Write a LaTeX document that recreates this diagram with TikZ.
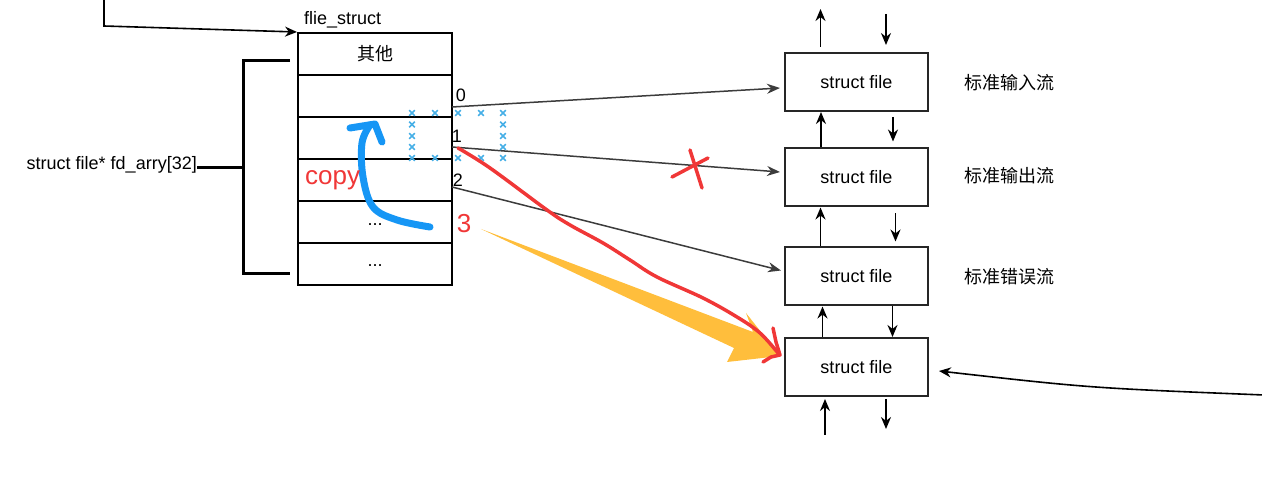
\documentclass[tikz,border=0pt]{standalone}
\usepackage{fontspec}
\setmainfont{Liberation Sans}
\newfontfamily\cjk{Noto Sans CJK SC}
\usetikzlibrary{arrows.meta}
\definecolor{conn}{RGB}{60,60,60}
\definecolor{redpen}{RGB}{240,55,55}
\definecolor{bluepen}{RGB}{22,150,245}
\definecolor{xblue}{RGB}{70,175,230}
\definecolor{yel}{RGB}{255,190,60}
\tikzset{
  txt/.style={font=\fontsize{18}{21}\selectfont, inner sep=0pt},
  cell/.style={draw=black, line width=2pt, minimum width=154pt, minimum height=42pt, inner sep=0pt, txt},
  fbox/.style={draw=black!85, line width=2pt, minimum width=143pt, minimum height=58pt, inner sep=0pt, txt},
  conarrow/.style={draw=conn, line width=1.5pt, -{Stealth[length=13pt,width=10pt]}},
  sarrow/.style={draw=black, line width=1.6pt, -{Stealth[length=12pt,width=10pt]}},
  redstroke/.style={draw=redpen, line width=3.5pt, line cap=round, line join=round},
  bluestroke/.style={draw=bluepen, line width=7pt, line cap=round, line join=round},
  xmark/.style={draw=xblue, line width=1.5pt}
}
\begin{document}
\begin{tikzpicture}[x=1pt,y=-1pt]
\useasboundingbox (0,0) rectangle (1262,494);

% left table
\node[cell] (r0) at (375,54) {\cjk 其他};
\node[cell] (r1) at (375,96) {};
\node[cell] (r2) at (375,138) {};
\node[cell] (r3) at (375,180) {};
\node[cell] (r4) at (375,222) {\raisebox{-8pt}{...}};
\node[cell] (r5) at (375,264) {\raisebox{-6pt}{...}};
\node[txt, anchor=west] (fs) at (304,20) {flie\_struct};

% bracket
\node[txt, anchor=east] (fd) at (197,165) {struct file* fd\_arry[32]};
\draw[line width=3pt] (290,61) -- (243,61) -- (243,274) -- (290,274);
\coordinate (bm) at (243,168);
\draw[line width=3pt] (fd.east |- bm) -- (bm);

% top-left incoming arrow
\coordinate (tl) at (104,-2);
\coordinate (tlb) at (104,26);
\draw[sarrow] (tl) -- (tlb) -- (r0.north west);

% right boxes
\node[fbox] (b1) at (856.5,82) {struct file};
\node[fbox] (b2) at (856.5,177.5) {struct file};
\node[fbox] (b3) at (856.5,276.5) {struct file};
\node[fbox] (b4) at (856.5,367) {struct file};
\node[txt, anchor=west] (l1) at (964,83) {\cjk 标准输入流};
\node[txt, anchor=west] (l2) at (964,176) {\cjk 标准输出流};
\node[txt, anchor=west] (l3) at (964,277) {\cjk 标准错误流};

% small vertical arrows
\draw[sarrow] ([xshift=-36pt,yshift=5pt]b1.north) -- ([xshift=-36pt,yshift=43pt]b1.north);
\draw[sarrow] ([xshift=29.5pt,yshift=38pt]b1.north) -- ([xshift=29.5pt,yshift=7pt]b1.north);
\draw[sarrow] ([xshift=-35.5pt]b2.north) -- ([xshift=-35.5pt]b1.south);
\draw[sarrow] ([xshift=36.5pt,yshift=-5pt]b1.south) -- ([xshift=36.5pt,yshift=6pt]b2.north);
\draw[sarrow] ([xshift=-36pt]b3.north) -- ([xshift=-36pt]b2.south);
\draw[sarrow] ([xshift=39pt,yshift=-6pt]b2.south) -- ([xshift=39pt,yshift=5pt]b3.north);
\draw[sarrow] ([xshift=-34pt]b4.north) -- ([xshift=-34pt]b3.south);
\draw[sarrow] ([xshift=36pt]b3.south) -- ([xshift=36pt]b4.north);
\draw[sarrow] ([xshift=-31.5pt,yshift=-38pt]b4.south) -- ([xshift=-31.5pt,yshift=-2pt]b4.south);
\draw[sarrow] ([xshift=29.5pt,yshift=-2pt]b4.south) -- ([xshift=29.5pt,yshift=-32pt]b4.south);

% right incoming arrow
\coordinate (rr) at (1264,395);
\draw[sarrow] (rr) .. controls (1090,388) .. ([xshift=10pt,yshift=-4pt]b4.east);

% table connectors
\coordinate (p0) at (452,107);
\coordinate (p1) at (452,147);
\coordinate (p2) at (452,187);
\draw[conarrow] (p0) -- ([xshift=-4pt,yshift=-6pt]b1.west);
\draw[conarrow] (p1) -- ([xshift=-4pt,yshift=5.5pt]b2.west);
\draw[conarrow] (p2) -- ([xshift=-3pt,yshift=6pt]b3.west);
\node[txt] (n0) at (461,95) {0};
\node[txt] (n1) at (457,136) {1};
\node[txt] (n2) at (458,180) {2};

% blue crosses
\foreach \x in {412,435,458,481,503} {
  \foreach \y in {113,158} {
    \draw[xmark] (\x-2.8,\y-2.8) -- (\x+2.8,\y+2.8) (\x-2.8,\y+2.8) -- (\x+2.8,\y-2.8);
  }
}
\foreach \x in {412,503} {
  \foreach \y in {124.5,136,147} {
    \draw[xmark] (\x-2.8,\y-2.8) -- (\x+2.8,\y+2.8) (\x-2.8,\y+2.8) -- (\x+2.8,\y-2.8);
  }
}

% yellow arrow
\fill[yel] (481,229) -- (753,332) -- (746,313) -- (780,356) -- (727,362) -- (734,348) -- cycle;

% red X
\draw[redstroke] (690,150) -- (702,188);
\draw[redstroke] (672,177) -- (708,158);

% red hand-drawn arrow
\draw[redstroke] plot[smooth, tension=0.6] coordinates {(458,148) (490,168) (547,210) (570,225) (603,243) (630,260) (657,277) (703,298) (737,317) (760,333) (778,353)};
\draw[redstroke] (773,328) -- (776,342) -- (780,355) -- (771,357) -- (763,362);

% blue hand-drawn arrow
\draw[bluestroke] plot[smooth, tension=0.6] coordinates {(430,227) (397,220) (373,207) (363,177) (362,143) (370,125)};
\draw[bluestroke] (350,128) -- (375,124) -- (382,142);

% red labels
\node[txt, text=redpen, font=\fontsize{26}{29}\selectfont, anchor=west] (cp) at (305,180) {copy};
\node[txt, text=redpen, font=\fontsize{26}{29}\selectfont] (three) at (464,224) {3};
\end{tikzpicture}
\end{document}
